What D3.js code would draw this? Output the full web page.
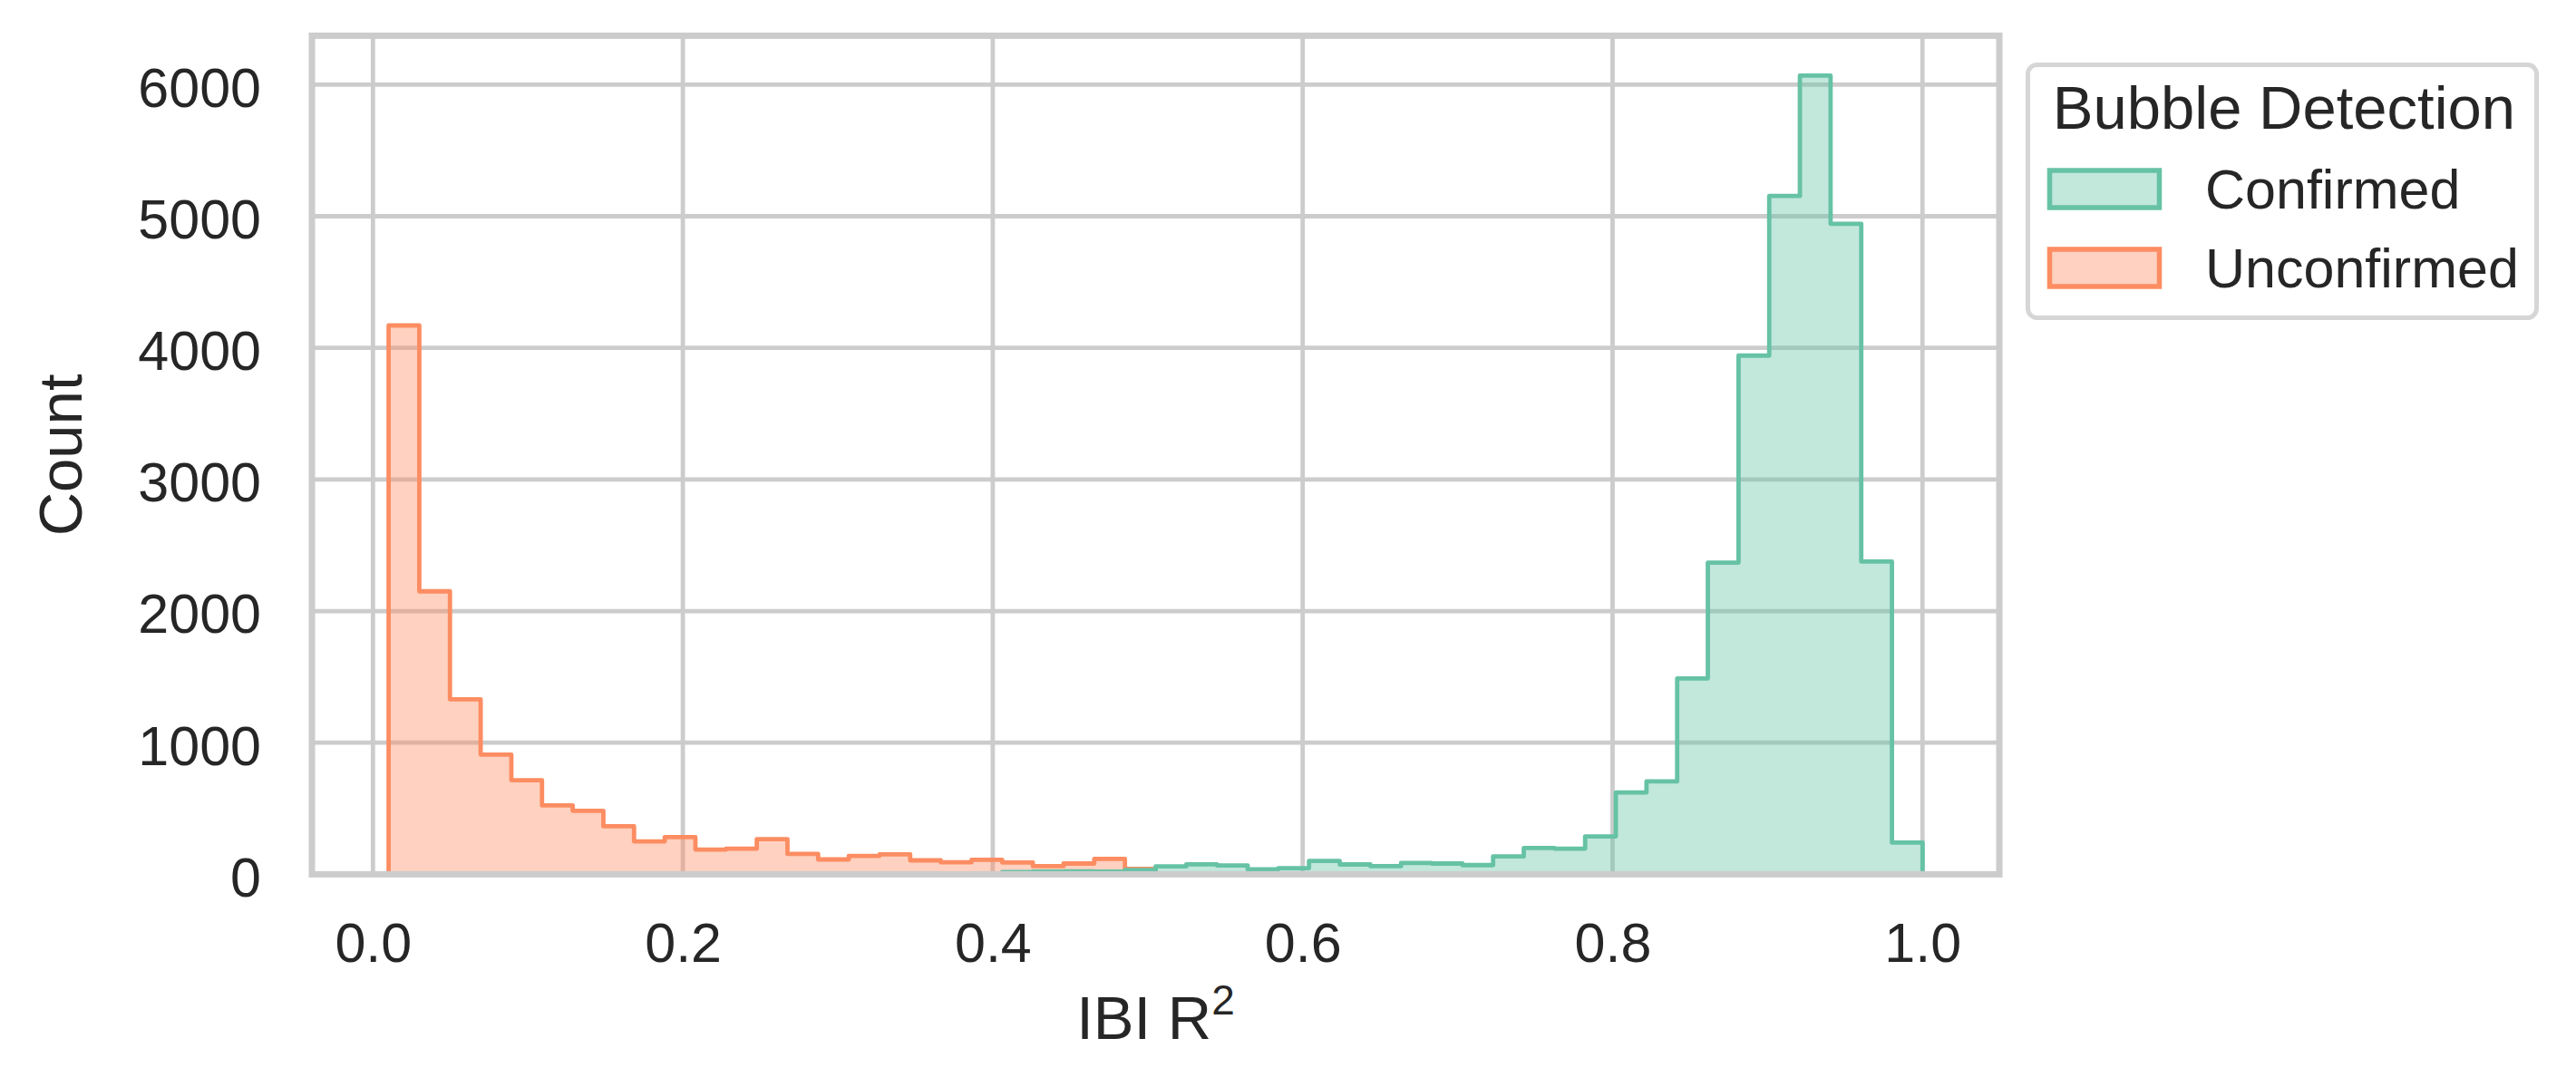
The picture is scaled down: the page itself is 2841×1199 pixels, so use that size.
<!DOCTYPE html>
<html>
<head>
<meta charset="utf-8">
<script src="https://cdn.jsdelivr.net/npm/d3@7"></script>
<style>
  html, body { margin: 0; padding: 0; background: #fff; }
  svg { display: block; font-family: "Liberation Sans", Arial, sans-serif; }
</style>
</head>
<body>
<script>
// histogram bins: 50 shared bins from binStart, each binWidth wide
const binStart = 0.0101;
const binWidth = 0.0198;

const seriesNames = ['Confirmed', 'Unconfirmed'];
const seriesColors = ['#66c2a5', '#fc8d62'];

const confirmedCounts = [
  0, 0, 0, 0, 0, 0, 0, 0, 0, 0,
  0, 0, 0, 0, 0, 0, 0, 0, 0, 0,
  18, 20, 22, 20, 32, 60, 76, 68, 38, 47,
  102, 75, 62, 86, 82, 70, 136, 200, 195, 288,
  622, 706, 1488, 2368, 3941, 5154, 6068, 4943, 2376, 241
];
const unconfirmedCounts = [
  4170, 2150, 1330, 910, 715, 523, 483, 365, 250, 282,
  188, 195, 267, 155, 113, 140, 152, 106, 91, 110,
  90, 62, 82, 117, 42, 0, 0, 0, 0, 0,
  0, 0, 0, 0, 0, 0, 0, 0, 0, 0,
  0, 0, 0, 0, 0, 0, 0, 0, 0, 0
];

const xTicks = [0, 0.2, 0.4, 0.6, 0.8, 1.0];
const yTicks = [0, 1000, 2000, 3000, 4000, 5000, 6000];

const W = 2841, H = 1199;
const plot = { left: 344, right: 2205, top: 39.4, bottom: 964.4 };
const ink = '#262626';
const gridColor = '#cccccc';

const svg = d3.select('body').append('svg')
    .attr('width', W)
    .attr('height', H);

const nBins = confirmedCounts.length;
const xMin = binStart, xMax = binStart + nBins * binWidth;
const xPad = (xMax - xMin) * 0.05;

const x = d3.scaleLinear()
    .domain([xMin - xPad, xMax + xPad])
    .range([plot.left, plot.right]);

const yMax = d3.max(confirmedCounts.concat(unconfirmedCounts)) * 1.05;
const y = d3.scaleLinear()
    .domain([0, yMax])
    .range([plot.bottom, plot.top]);

// grid
const grid = svg.append('g')
    .attr('stroke', gridColor)
    .attr('stroke-width', 4.8);

grid.selectAll('.vx')
    .data(xTicks)
    .join('line')
        .attr('x1', d => x(d)).attr('x2', d => x(d))
        .attr('y1', plot.top).attr('y2', plot.bottom);

grid.selectAll('.hy')
    .data(yTicks)
    .join('line')
        .attr('x1', plot.left).attr('x2', plot.right)
        .attr('y1', d => y(d)).attr('y2', d => y(d));

// step histograms, last hue level drawn first
const area = d3.area()
    .curve(d3.curveStepAfter)
    .x(d => x(d[0]))
    .y0(y(0))
    .y1(d => y(d[1]));

function stepPoints(counts) {
    const pts = counts.map((c, i) => [binStart + i * binWidth, c]);
    pts.push([binStart + counts.length * binWidth, counts[counts.length - 1]]);
    return pts;
}

const layers = [
    { counts: unconfirmedCounts, color: seriesColors[1] },
    { counts: confirmedCounts, color: seriesColors[0] }
];

svg.append('g')
    .selectAll('path')
    .data(layers)
    .join('path')
        .attr('d', d => area(stepPoints(d.counts)) + 'Z')
        .attr('fill', d => d.color)
        .attr('fill-opacity', 0.4)
        .attr('stroke', d => d.color)
        .attr('stroke-width', 4.8)
        .attr('stroke-linejoin', 'round');

// spines
svg.append('rect')
    .attr('x', plot.left)
    .attr('y', plot.top)
    .attr('width', plot.right - plot.left)
    .attr('height', plot.bottom - plot.top)
    .attr('fill', 'none')
    .attr('stroke', gridColor)
    .attr('stroke-width', 7);

// axes (labels only)
const xAxis = svg.append('g')
    .attr('transform', `translate(0,${plot.bottom})`)
    .call(d3.axisBottom(x).tickValues(xTicks).tickFormat(d3.format('.1f')).tickSize(0).tickPadding(53));

const yAxis = svg.append('g')
    .attr('transform', `translate(${plot.left},0)`)
    .call(d3.axisLeft(y).tickValues(yTicks).tickFormat(d3.format('d')).tickSize(0).tickPadding(56));

[xAxis, yAxis].forEach(ax => {
    ax.select('.domain').remove();
    ax.selectAll('text')
        .attr('fill', ink)
        .attr('font-size', 61)
        .attr('font-family', '"Liberation Sans", Arial, sans-serif');
});
yAxis.selectAll('text').attr('dy', '0.39em');

// axis titles
const xTitle = svg.append('text')
    .attr('x', (plot.left + plot.right) / 2)
    .attr('y', 1146)
    .attr('text-anchor', 'middle')
    .attr('font-size', 67)
    .attr('fill', ink);
xTitle.append('tspan').text('IBI R');
xTitle.append('tspan').attr('font-size', 46).attr('dy', -27).text('2');

svg.append('text')
    .attr('transform', `translate(90,${(plot.top + plot.bottom) / 2}) rotate(-90)`)
    .attr('text-anchor', 'middle')
    .attr('font-size', 67)
    .attr('fill', ink)
    .text('Count');

// legend
const legend = svg.append('g');

legend.append('rect')
    .attr('x', 2236.5).attr('y', 71.5)
    .attr('width', 561).attr('height', 279)
    .attr('rx', 10)
    .attr('fill', '#fff')
    .attr('stroke', '#d6d6d6')
    .attr('stroke-width', 5);

legend.append('text')
    .attr('x', 2519).attr('y', 142)
    .attr('text-anchor', 'middle')
    .attr('font-size', 67)
    .attr('fill', ink)
    .text('Bubble Detection');

const items = legend.selectAll('.item')
    .data(seriesNames)
    .join('g')
        .attr('transform', (d, i) => `translate(0,${i * 87})`);

items.append('rect')
    .attr('x', 2260.5).attr('y', 188)
    .attr('width', 121).attr('height', 41)
    .attr('fill', (d, i) => seriesColors[i])
    .attr('fill-opacity', 0.4)
    .attr('stroke', (d, i) => seriesColors[i])
    .attr('stroke-width', 5.5);

items.append('text')
    .attr('x', 2432).attr('y', 230)
    .attr('font-size', 61)
    .attr('fill', ink)
    .text(d => d);
</script>
</body>
</html>
